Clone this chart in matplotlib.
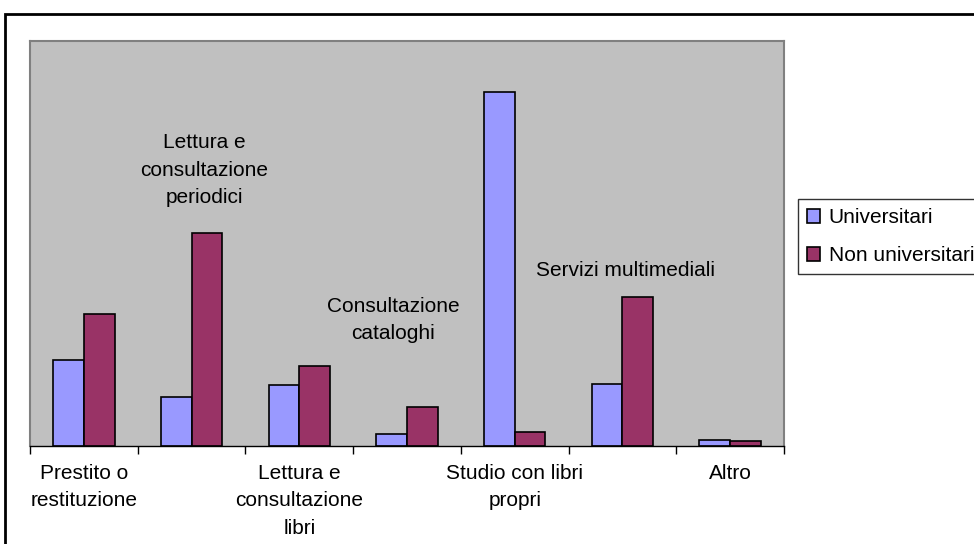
import numpy as np
import matplotlib.pyplot as plt
from matplotlib.patches import Rectangle

plt.rcParams['font.family'] = ['Liberation Sans', 'DejaVu Sans']

categories = [
    'Prestito o\nrestituzione',
    'Lettura e\nconsultazione\nperiodici',
    'Lettura e\nconsultazione\nlibri',
    'Consultazione\ncataloghi',
    'Studio con libri\npropri',
    'Servizi multimediali',
    'Altro',
]
universitari = [13.6, 7.8, 9.6, 1.9, 55.9, 9.8, 1.0]
non_universitari = [20.9, 33.6, 12.6, 6.2, 2.2, 23.5, 0.8]

# categories whose name sits inside the plot instead of under the axis
inside_labels = {1: (204, 170), 3: (393, 320), 5: (626, 270)}

FS = 15
W, H = 974, 544
fig = plt.figure(figsize=(W / 100, H / 100), dpi=100)
fig.patch.set_facecolor('white')

# outer chart border (runs off the right and bottom edges)
fig.patches.append(Rectangle((5 / W, 1 - 560 / H), 980 / W, 546 / H,
                             transform=fig.transFigure, fill=False,
                             edgecolor='black', linewidth=2))

ax = fig.add_axes([30 / W, 1 - 446 / H, 754 / W, 405 / H])
ax.set_facecolor('#C0C0C0')

x = np.arange(len(categories))
w = 1 / 3.5
ax.bar(x - w / 2, universitari, w, color='#9999FF', edgecolor='black',
       linewidth=1.2, label='Universitari')
ax.bar(x + w / 2, non_universitari, w, color='#993366', edgecolor='black',
       linewidth=1.2, label='Non universitari')

ax.set_xlim(-0.5, len(categories) - 0.5)
ax.set_ylim(0, 64)
ax.set_yticks([])

for side in ['left', 'top', 'right']:
    ax.spines[side].set_color('#808080')
    ax.spines[side].set_linewidth(1.5)
ax.spines['bottom'].set_color('black')
ax.spines['bottom'].set_linewidth(1)

ax.set_xticks(np.arange(-0.5, len(categories)))
ax.set_xticklabels([])
ax.tick_params(axis='x', length=6, width=1, color='black', direction='out')

for i, name in enumerate(categories):
    if i in inside_labels:
        px, py = inside_labels[i]
        fig.text(px / W, 1 - py / H, name, ha='center', va='center',
                 fontsize=FS, linespacing=1.55, color='black')
    else:
        ax.text(i, -0.045, name, transform=ax.get_xaxis_transform(),
                ha='center', va='top', fontsize=FS, linespacing=1.55)

leg = fig.legend(loc='upper left', bbox_to_anchor=(798 / W, 1 - 199 / H),
                 frameon=True, fancybox=False, fontsize=FS,
                 handlelength=0.62, handleheight=0.62, handletextpad=0.4,
                 labelspacing=0.9, borderpad=0.45, borderaxespad=0)
leg.get_frame().set_edgecolor('black')
leg.get_frame().set_linewidth(1)

fig.savefig('out.png', dpi=100)
